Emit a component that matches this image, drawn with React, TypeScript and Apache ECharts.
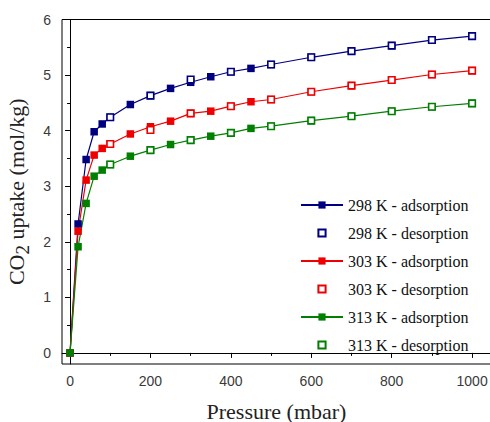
import React, { useEffect, useRef } from 'react';
import * as echarts from 'echarts';

const adsPressure = [0, 20, 40, 60, 80, 100, 150, 200, 250, 300, 350, 400, 450, 500, 600, 700, 800, 900, 1000];
const desPressure = [100, 200, 300, 400, 500, 600, 700, 800, 900, 1000];
const ads298 = [0, 2.32, 3.48, 3.98, 4.12, 4.24, 4.47, 4.63, 4.76, 4.87, 4.97, 5.06, 5.12, 5.19, 5.32, 5.43, 5.53, 5.63, 5.7];
const des298 = [4.24, 4.63, 4.92, 5.06, 5.19, 5.32, 5.43, 5.53, 5.63, 5.7];
const ads303 = [0, 2.19, 3.11, 3.56, 3.68, 3.76, 3.94, 4.07, 4.17, 4.31, 4.35, 4.44, 4.52, 4.56, 4.7, 4.81, 4.91, 5.01, 5.08];
const des303 = [3.76, 4.01, 4.31, 4.44, 4.56, 4.7, 4.81, 4.91, 5.01, 5.08];
const ads313 = [0, 1.91, 2.69, 3.18, 3.29, 3.39, 3.54, 3.65, 3.75, 3.83, 3.9, 3.96, 4.04, 4.08, 4.18, 4.26, 4.35, 4.43, 4.49];
const des313 = [3.39, 3.65, 3.83, 3.96, 4.08, 4.18, 4.26, 4.35, 4.43, 4.49];

const xTicks = [0, 200, 400, 600, 800, 1000];
const xMinorTicks = [100, 300, 500, 700, 900];
const yTicks = [0, 1, 2, 3, 4, 5, 6];
const yMinorTicks = [0.5, 1.5, 2.5, 3.5, 4.5, 5.5];

const names = [
  '298 K - adsorption', '298 K - desorption',
  '303 K - adsorption', '303 K - desorption',
  '313 K - adsorption', '313 K - desorption',
];
const colors = ['#00007f', '#ee0000', '#007f00'];

const zip = (xs: number[], ys: number[]) => xs.map((x, i) => [x, ys[i]]);

export default function App() {
  const ref = useRef<HTMLDivElement>(null);
  useEffect(() => {
    if (!ref.current) return;
    const chart = echarts.init(ref.current, undefined, { renderer: 'svg' });
    const adsSets = [ads298, ads303, ads313];
    const desSets = [des298, des303, des313];
    const series: any[] = [];
    for (let i = 0; i < 3; i++) {
      series.push({
        name: names[i * 2],
        type: 'line',
        xAxisIndex: 0,
        yAxisIndex: 0,
        data: zip(adsPressure, adsSets[i]),
        symbol: 'rect',
        symbolSize: 7.5,
        showAllSymbol: true,
        itemStyle: { color: colors[i] },
        lineStyle: { color: colors[i], width: 1.2 },
        z: 2,
      });
      series.push({
        name: names[i * 2 + 1],
        type: 'line',
        xAxisIndex: 0,
        yAxisIndex: 0,
        data: zip(desPressure, desSets[i]),
        symbol: 'rect',
        symbolSize: 6.5,
        showAllSymbol: true,
        itemStyle: { color: '#ffffff', borderColor: colors[i], borderWidth: 1.6 },
        lineStyle: { width: 0, opacity: 0 },
        z: 3,
      });
    }
    const axisLineStyle = { color: '#000', width: 1 };
    const labelStyle = { fontFamily: 'Liberation Sans', fontSize: 14, color: '#3a3a3a' };
    const gridBox = { left: 62, right: -1, top: 19.5, bottom: 58, outerBoundsMode: 'none', containLabel: false };
    chart.setOption({
      animation: false,
      backgroundColor: '#ffffff',
      grid: [
        { ...gridBox, show: true, borderColor: '#000', borderWidth: 1, backgroundColor: 'transparent' },
        { ...gridBox, show: false },
      ],
      legend: {
        orient: 'vertical',
        left: 300,
        top: 197,
        padding: 0,
        itemWidth: 42,
        itemHeight: 9,
        itemGap: 12,
        textStyle: { fontFamily: 'Liberation Serif', fontSize: 16, color: '#111' },
        data: names.map((n, i) => (i % 2 === 0
          ? { name: n, lineStyle: { width: 2 } }
          : { name: n, lineStyle: { opacity: 0, width: 0 } })),
      },
      xAxis: [
        {
          type: 'value', gridIndex: 0, min: -20, max: 1047,
          name: 'Pressure (mbar)', nameLocation: 'middle', nameGap: 36,
          nameTextStyle: { fontFamily: 'Liberation Serif', fontSize: 22, color: '#222' },
          axisLine: { show: true, lineStyle: axisLineStyle },
          axisTick: { show: true, length: 5, lineStyle: axisLineStyle, customValues: xTicks },
          axisLabel: { ...labelStyle, margin: 10, customValues: xTicks, formatter: (v: number) => String(v) },
          splitLine: { show: false },
        },
        {
          type: 'value', gridIndex: 1, min: -20, max: 1047, position: 'bottom',
          axisLine: { show: false },
          axisTick: { show: true, length: 3, lineStyle: axisLineStyle, customValues: xMinorTicks },
          axisLabel: { show: false },
          splitLine: { show: false },
        },
      ],
      yAxis: [
        {
          type: 'value', gridIndex: 0, min: -0.2, max: 6,
          name: '{a|CO}{s|2}{a| uptake (mol/kg)}', nameLocation: 'middle', nameGap: 28,
          nameTextStyle: {
            rich: {
              a: { fontFamily: 'Liberation Serif', fontSize: 22, color: '#222' },
              s: { fontFamily: 'Liberation Serif', fontSize: 19, color: '#222', padding: [12, 0, 0, 0] },
            },
          },
          axisLine: { show: true, lineStyle: axisLineStyle },
          axisTick: { show: true, length: 5, lineStyle: axisLineStyle, customValues: yTicks },
          axisLabel: { ...labelStyle, margin: 11, customValues: yTicks },
          splitLine: { show: false },
        },
        {
          type: 'value', gridIndex: 1, min: -0.2, max: 6, position: 'left',
          axisLine: { show: false },
          axisTick: { show: true, length: 3, lineStyle: axisLineStyle, customValues: yMinorTicks },
          axisLabel: { show: false },
          splitLine: { show: false },
        },
      ],
      series,
    });
    return () => chart.dispose();
  }, []);
  return <div ref={ref} style={{ position: 'absolute', left: 0, top: 0, width: 490, height: 422 }} />;
}
